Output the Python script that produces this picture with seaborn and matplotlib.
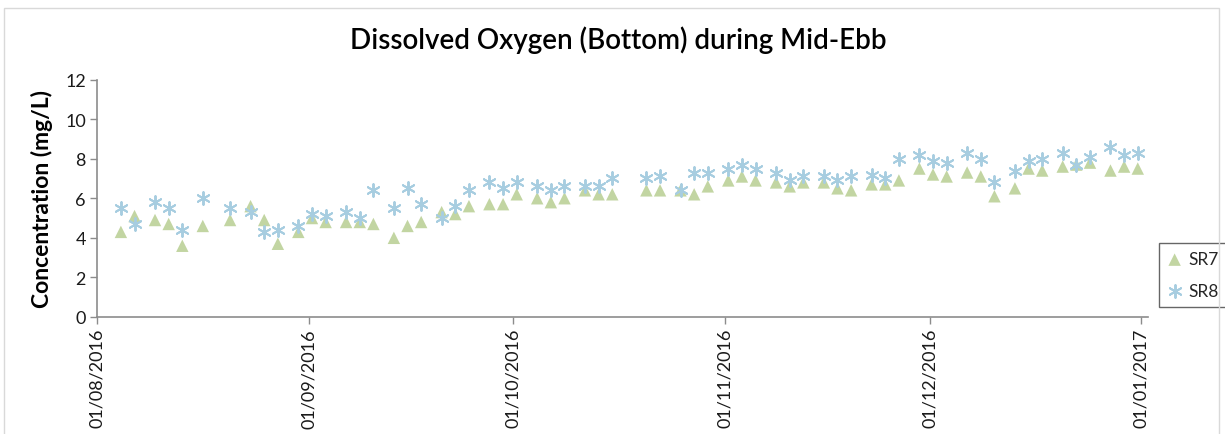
import matplotlib
matplotlib.use("Agg")
import matplotlib.pyplot as plt
import matplotlib.dates as mdates
from matplotlib.patches import Rectangle
import pandas as pd
import seaborn as sns

# sampling dates (dd/mm/yyyy)
dates = [
    "04/08/2016", "06/08/2016", "09/08/2016", "11/08/2016", "13/08/2016", "16/08/2016",
    "20/08/2016", "23/08/2016", "25/08/2016", "27/08/2016", "30/08/2016",
    "01/09/2016", "03/09/2016", "06/09/2016", "08/09/2016", "10/09/2016", "13/09/2016",
    "15/09/2016", "17/09/2016", "20/09/2016", "22/09/2016", "24/09/2016", "27/09/2016",
    "29/09/2016",
    "01/10/2016", "04/10/2016", "06/10/2016", "08/10/2016", "11/10/2016", "13/10/2016",
    "15/10/2016", "20/10/2016", "22/10/2016", "25/10/2016", "27/10/2016", "29/10/2016",
    "01/11/2016", "03/11/2016", "05/11/2016", "08/11/2016", "10/11/2016", "12/11/2016",
    "15/11/2016", "17/11/2016", "19/11/2016", "22/11/2016", "24/11/2016", "26/11/2016",
    "29/11/2016",
    "01/12/2016", "03/12/2016", "06/12/2016", "08/12/2016", "10/12/2016", "13/12/2016",
    "15/12/2016", "17/12/2016", "20/12/2016", "22/12/2016", "24/12/2016", "27/12/2016",
    "29/12/2016", "31/12/2016",
]

# dissolved oxygen, bottom, mid-ebb (mg/L)
sr7 = [
    4.3, 5.1, 4.9, 4.7, 3.6, 4.6, 4.9, 5.6, 4.9, 3.7, 4.3,
    5.0, 4.8, 4.8, 4.8, 4.7, 4.0, 4.6, 4.8, 5.3, 5.2, 5.6, 5.7, 5.7,
    6.2, 6.0, 5.8, 6.0, 6.4, 6.2, 6.2, 6.4, 6.4, 6.4, 6.2, 6.6,
    6.9, 7.1, 6.9, 6.8, 6.6, 6.8, 6.8, 6.5, 6.4, 6.7, 6.7, 6.9, 7.5,
    7.2, 7.1, 7.3, 7.1, 6.1, 6.5, 7.5, 7.4, 7.6, 7.7, 7.8, 7.4, 7.6, 7.5,
]
sr8 = [
    5.5, 4.7, 5.8, 5.5, 4.4, 6.0, 5.5, 5.3, 4.3, 4.4, 4.6,
    5.2, 5.1, 5.3, 5.0, 6.4, 5.5, 6.5, 5.7, 5.0, 5.6, 6.4, 6.8, 6.5,
    6.8, 6.6, 6.4, 6.6, 6.6, 6.6, 7.0, 7.0, 7.1, 6.4, 7.3, 7.3,
    7.5, 7.7, 7.5, 7.3, 6.9, 7.1, 7.1, 6.9, 7.1, 7.2, 7.0, 8.0, 8.2,
    7.9, 7.8, 8.3, 8.0, 6.8, 7.4, 7.9, 8.0, 8.3, 7.7, 8.1, 8.6, 8.2, 8.3,
]

stations = ["SR7", "SR8"]
colors = {"SR7": "#c2d5a2", "SR8": "#a7cde0"}

df = pd.DataFrame({"date": pd.to_datetime(dates, dayfirst=True), "SR7": sr7, "SR8": sr8})
# Excel's date axis puts each day's point in the middle of the day
df["date"] = df["date"] + pd.Timedelta(hours=12)
long = df.melt(id_vars="date", var_name="station", value_name="do")

sns.set_theme(style="ticks")
plt.rcParams["font.family"] = ["Lato", "DejaVu Sans"]

fig = plt.figure(figsize=(12.25, 4.35), dpi=100)
ax = fig.add_axes([97 / 1225, 1 - 318 / 435, (1148 - 97) / 1225, (318 - 80.5) / 435])

sns.scatterplot(data=long[long.station == "SR7"], x="date", y="do", marker="^", s=80,
                color=colors["SR7"], edgecolor="none", label="SR7", ax=ax)
sns.scatterplot(data=long[long.station == "SR8"], x="date", y="do", marker=(6, 2, 0), s=85,
                color=colors["SR8"], linewidth=1.4, label="SR8", ax=ax)

ax.set_xlim(pd.Timestamp("2016-08-01"), pd.Timestamp("2017-01-02"))
ax.set_ylim(0, 12)
ax.set_yticks(range(0, 13, 2))
ax.xaxis.set_major_locator(mdates.MonthLocator())
ax.xaxis.set_major_formatter(mdates.DateFormatter("%d/%m/%Y"))
ax.tick_params(axis="x", rotation=90)
ax.tick_params(axis="both", direction="out", length=5, width=1, color="#8c8c8c",
               labelsize=13, labelcolor="#1a1a1a", pad=3)

sns.despine(ax=ax)
for side in ("left", "bottom"):
    ax.spines[side].set_color("#8c8c8c")
    ax.spines[side].set_linewidth(1.2)

ax.set_xlabel("")
ax.set_ylabel("Concentration (mg/L)", fontsize=16.5, fontweight="bold", color="black")
ax.yaxis.set_label_coords(-0.042, 0.5)

fig.suptitle("Dissolved Oxygen (Bottom) during Mid-Ebb", x=0.505, y=1 - 40 / 435,
             va="center", fontsize=20, fontweight="semibold", color="black")

ax.legend(loc="center left", bbox_to_anchor=(1159 / 1225, 1 - 276 / 435),
          bbox_transform=fig.transFigure, frameon=True, fancybox=False,
          edgecolor="#404040", fontsize=12.5, handlelength=0.8, handletextpad=0.4,
          borderpad=0.5, labelspacing=0.9, borderaxespad=0)

# light chart-area border
fig.patches.append(Rectangle((4 / 1225, -0.05), (1219 - 4) / 1225, 1.05 - 9 / 435,
                             transform=fig.transFigure, fill=False,
                             edgecolor="#d9d9d9", linewidth=1))

fig.savefig("out.png", dpi=100)
plt.close(fig)
